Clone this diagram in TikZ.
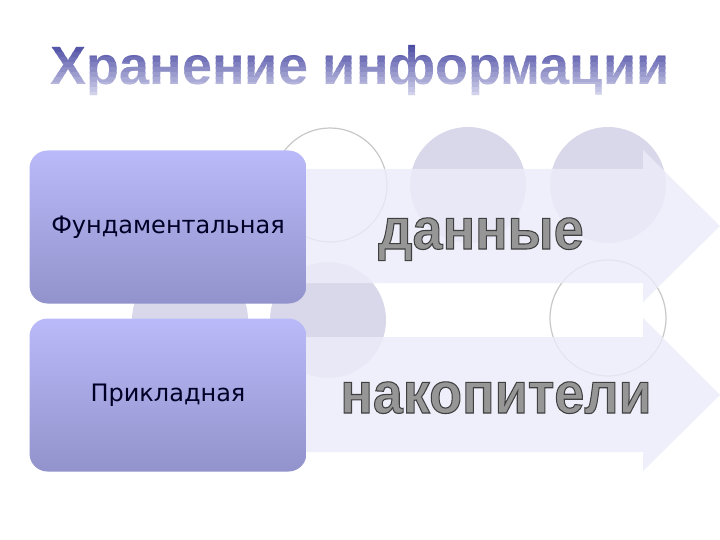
\documentclass[tikz,border=0pt]{standalone}
\usepackage{fontspec}
\setmainfont{Liberation Sans}
\newfontfamily\cardfont{DejaVu Sans}

\definecolor{circfill}{RGB}{216,216,234}
\definecolor{circline}{RGB}{200,200,200}
\definecolor{bandfill}{RGB}{236,236,250}
\definecolor{cardtop}{RGB}{186,186,250}
\definecolor{cardbot}{RGB}{146,146,204}
\definecolor{titletop}{RGB}{60,60,156}
\definecolor{titlebot}{RGB}{230,230,246}
\definecolor{wordfill}{RGB}{150,150,150}

% gray letters with a dark outline
\newcommand{\outlined}[1]{{\color{wordfill}\special{pdf:literal direct 0.25 0.25 0.25 RG 2 Tr 1.1 w}#1\special{pdf:literal direct 0 Tr}}}

\begin{document}
\begin{tikzpicture}[x=1pt,y=-1pt,
	disc/.style={fill=circfill},
	ring/.style={draw=circline,line width=1.2pt},
	band/.style={fill=bandfill,fill opacity=0.8},
	card/.style={rounded corners=18pt,top color=cardtop,bottom color=cardbot,
		minimum width=277pt,minimum height=153pt,
		font=\cardfont\fontsize{24}{28}\selectfont,text=black!85!blue},
	heading/.style={anchor=base,font=\fontsize{54}{60}\selectfont\bfseries},
	word/.style={anchor=base,font=\fontsize{58}{62}\selectfont\bfseries}]
			\fill[white] (0,0) rectangle (720,540);
			\useasboundingbox (0,0) rectangle (720,540);
			
			% title, shaded top to bottom
			\foreach \i in {0,...,11}{
				\pgfmathsetmacro\mix{100-\i*8}
				\begin{scope}
					\clip (0,38+5*\i) rectangle (720,43.5+5*\i);
					\node[heading,text=titletop!\mix!titlebot] (title) at (360,85) {Хранение информации};
				\end{scope}
			}
			
			% circles behind
			\draw[ring] (330,185) circle (57pt);
			\fill[disc] (468,185) circle (58pt);
			\fill[disc] (608,185) circle (58pt);
			\fill[disc] (190,320) circle (58pt);
			\fill[disc] (328,320) circle (58pt);
			\draw[ring] (608,318) circle (58pt);
			
			% arrows
			\fill[band] (300,169) -- (643,169) -- (643,150) -- (720,226) -- (643,302) -- (643,283) -- (300,283) -- cycle;
			\fill[band] (300,337) -- (643,337) -- (643,318) -- (720,395) -- (643,471) -- (643,452) -- (300,452) -- cycle;
			
			% boxes
			\node[card] (fund) at (168,227) {Фундаментальная};
			\node[card] (appl) at (168,395) {Прикладная};
			
			\node[word] (data) at (481,249) {\scalebox{0.93}[1]{\outlined{данные}}};
			\node[word] (store) at (496,413) {\scalebox{0.93}[1]{\outlined{накопители}}};
			
		\end{tikzpicture}
\end{document}
